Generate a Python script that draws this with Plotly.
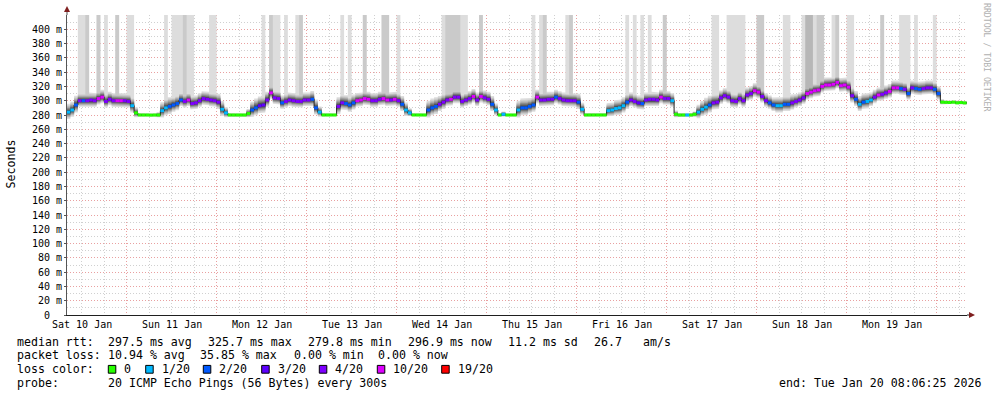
import pandas as pd
import plotly.graph_objects as go

# ---------------- data ----------------
first_bucket = pd.Timestamp("2026-01-10 08:00:00")
range_start = pd.Timestamp("2026-01-10 08:06:25")
range_end = pd.Timestamp("2026-01-20 08:06:25")

median_rtt = (
    [284, 287, 294, 300, 300, 300, 301, 300, 303, 305, 299, 302, 300, 300, 300, 300, 299, 293, 283, 280, 280, 280, 279.8, 280]
    + [280, 286, 290, 292, 294, 296, 301, 299, 301, 296, 297, 300, 303, 302, 301, 300, 298, 288, 283, 280, 280, 280, 280, 280]
    + [282, 287, 290, 293, 294, 301, 311, 304, 303, 297, 299, 301, 300, 299, 299, 301, 301, 302, 290, 284, 280, 280, 280, 280]
    + [292, 297, 296, 294, 297, 300, 301, 303, 302, 300, 300, 302, 303, 301, 301, 302, 300, 295, 287, 283, 280, 280, 280, 280]
    + [287, 290, 292, 295, 298, 301, 302, 305, 305, 299, 301, 303, 306, 301, 306, 304, 302, 295, 287, 280, 281, 280, 280, 280]
    + [287, 290, 290, 292, 294, 305, 301, 301, 302, 302, 305, 303, 301, 300, 300, 300, 298, 288, 280, 280, 280, 280, 280, 280]
    + [286, 287, 289, 290, 293, 298, 301, 299, 297, 296, 301, 302, 302, 301, 305, 303, 303, 300, 281, 280, 280, 280, 280, 281]
    + [284, 288, 291, 294, 297, 298, 304, 307, 305, 300, 299, 303, 300, 308, 310, 314, 312, 306, 300, 297, 294, 293, 293, 295]
    + [295, 297, 299, 301, 304, 310, 312, 314, 315, 320, 322, 322, 323, 325.7, 321, 322, 319, 307, 302, 295, 298, 299, 301, 305]
    + [308, 309, 311, 313, 318, 318, 317, 316, 310, 318, 317, 316, 317, 318, 318, 316, 310, 298, 297.7, 297.5, 298, 297, 297.5, 296.9]
)

loss_pings = (
    [1, 1, 2, 4, 2, 4, 4, 4, 12, 12, 4, 4, 4, 12, 12, 4, 4, 1, 0, 0, 0, 0, 0, 0]
    + [0, 1, 1, 2, 2, 2, 2, 4, 12, 4, 4, 4, 4, 4, 4, 4, 4, 1, 1, 0, 0, 0, 0, 0]
    + [0, 2, 2, 3, 3, 4, 12, 4, 4, 2, 4, 4, 4, 4, 4, 4, 4, 2, 2, 1, 0, 0, 0, 0]
    + [4, 4, 2, 2, 2, 12, 12, 12, 12, 4, 4, 4, 12, 12, 4, 12, 4, 2, 1, 1, 0, 0, 0, 0]
    + [2, 2, 2, 4, 4, 4, 12, 4, 4, 4, 4, 4, 12, 4, 12, 4, 4, 2, 1, 0, 1, 0, 0, 0]
    + [1, 2, 2, 2, 2, 12, 4, 4, 4, 4, 2, 4, 4, 4, 4, 4, 2, 1, 0, 0, 0, 0, 0, 0]
    + [1, 1, 1, 1, 1, 2, 4, 4, 3, 2, 4, 4, 4, 4, 12, 4, 4, 1, 0, 0, 0, 1, 0, 0]
    + [1, 1, 1, 2, 4, 4, 4, 4, 4, 4, 4, 4, 4, 4, 4, 12, 12, 4, 4, 2, 2, 1, 1, 2]
    + [2, 4, 4, 4, 4, 12, 12, 12, 12, 12, 12, 12, 12, 12, 12, 12, 12, 4, 2, 1, 2, 1, 1, 4]
    + [12, 4, 4, 12, 12, 12, 2, 4, 2, 4, 2, 2, 4, 4, 4, 2, 2, 0, 0, 0, 0, 0, 0, 0]
)

smoke_spread = (
    [9, 9, 10, 8, 8, 8, 8, 8, 8, 8, 8, 8, 8, 8, 8, 8, 8, 9, 6, 2, 1.5, 1.5, 1.5, 1.5]
    + [3, 9, 10, 10, 9, 9, 8, 8, 8, 8, 8, 8, 8, 8, 8, 8, 9, 9, 6, 2, 1.5, 1.5, 1.5, 1.5]
    + [5, 9, 10, 10, 10, 9, 8, 8, 8, 8, 8, 8, 8, 8, 8, 8, 8, 9, 9, 6, 2, 1.5, 1.5, 1.5]
    + [10, 9, 9, 9, 9, 8, 8, 8, 8, 8, 8, 8, 8, 8, 8, 8, 8, 9, 8, 5, 2, 1.5, 1.5, 1.5]
    + [10, 10, 10, 9, 9, 8, 8, 8, 8, 8, 8, 8, 8, 8, 8, 8, 8, 9, 7, 2, 3, 1.5, 1.5, 1.5]
    + [10, 10, 10, 9, 9, 8, 8, 8, 8, 8, 8, 8, 8, 8, 8, 8, 9, 7, 2, 1.5, 1.5, 1.5, 1.5, 2]
    + [8, 8, 9, 9, 9, 9, 8, 8, 8, 8, 8, 8, 8, 8, 8, 8, 8, 8, 4, 2, 2, 2, 2, 3]
    + [8, 9, 10, 10, 9, 9, 8, 8, 8, 8, 8, 8, 8, 8, 8, 8, 8, 8, 8, 8, 8, 9, 9, 9]
    + [9, 9, 8, 8, 8, 8, 8, 8, 8, 8, 8, 8, 8, 8, 8, 8, 8, 9, 9, 9, 9, 9, 8, 8]
    + [8, 8, 8, 8, 8, 8, 8, 8, 8, 8, 8, 8, 8, 8, 8, 8, 8, 3, 2, 2, 2, 2, 2, 2]
)

# hours (bucket index) in which 1, 2 or 3 of the pings were above the drawn range
spike_hours_1 = [3, 4, 10, 16, 17, 26, 28, 29, 30, 32, 33, 38, 39, 52, 55, 56, 58, 61, 73, 75, 88,
                 100, 105, 106, 124, 126, 133, 149, 151, 153, 155, 172, 173, 176, 177, 178, 179, 180,
                 191, 192, 196, 199, 204, 208, 209, 222, 223, 224, 226, 231]
spike_hours_2 = [5, 8, 13, 31, 54, 62, 79, 84, 85, 101, 102, 103, 104, 110, 127, 134, 159, 184, 185,
                 200, 201, 205, 217]
spike_hours_3 = [197, 198]

day_labels = ["Sat 10 Jan", "Sun 11 Jan", "Mon 12 Jan", "Tue 13 Jan", "Wed 14 Jan",
              "Thu 15 Jan", "Fri 16 Jan", "Sat 17 Jan", "Sun 18 Jan", "Mon 19 Jan"]
day_label_times = pd.date_range("2026-01-10 12:00", periods=10, freq="D")

y_tick_values = list(range(0, 401, 20))
y_tick_labels = ["0\u00a0\u00a0"] + [f"{v} m" for v in range(20, 401, 20)]

loss_thresholds = [0, 1, 2, 3, 4, 10, 19]
loss_colors = ["#26ff00", "#00b8ff", "#0059ff", "#5e00ff", "#7e00ff", "#dd00ff", "#ff0000"]
loss_names = ["0", "1/20", "2/20", "3/20", "4/20", "10/20", "19/20"]

stats_rtt = ["297.5 ms avg", "325.7 ms max", "279.8 ms min", "296.9 ms now", "11.2 ms sd", "26.7", "am/s"]
stats_loss = ["10.94 % avg", "35.85 % max", "0.00 % min", "0.00 % now"]
probe_text = "20 ICMP Echo Pings (56 Bytes) every 300s"
end_text = "end: Tue Jan 20 08:06:25 2026"

# ---------------- geometry ----------------
W, H = 997, 397
L, T, PW, PH = 67, 15, 900, 300
FONT = "DejaVu Sans Mono"


def px(x):
    return (x - L) / PW


def py(y):
    return (T + PH - y) / PH


n = len(median_rtt)
edges = [first_bucket + pd.Timedelta(hours=i) for i in range(n + 1)]

fig = go.Figure()

# smoke layers (outer -> inner), smokeping style grey levels
fracs = [1.0, 0.82, 0.70, 0.60, 0.51, 0.43, 0.35, 0.27, 0.19, 0.11]
spike_level = [0] * n
for h in spike_hours_1:
    spike_level[h] = 1
for h in spike_hours_2:
    spike_level[h] = 2
for h in spike_hours_3:
    spike_level[h] = 3

for k, f in enumerate(fracs, start=1):
    g = int(190 / 10 * (10 - k)) + 50
    col = f"rgb({g},{g},{g})"
    xs, ys = [], []
    for i in range(n):
        up = median_rtt[i] + 1.3 * smoke_spread[i] * f
        if spike_level[i] >= k:
            up = 470
        xs += [edges[i], edges[i + 1]]
        ys += [up, up]
    for i in range(n - 1, -1, -1):
        lo = median_rtt[i] - 1.05 * smoke_spread[i] * f
        xs += [edges[i + 1], edges[i]]
        ys += [lo, lo]
    fig.add_trace(go.Scatter(x=xs, y=ys, mode="lines", fill="toself", fillcolor=col,
                             line=dict(width=0), hoverinfo="skip", showlegend=False))

# median line (black steps)
fig.add_trace(go.Scatter(x=edges, y=median_rtt + [median_rtt[-1]], mode="lines",
                         line=dict(color="#202020", width=1, shape="hv"),
                         hoverinfo="skip", showlegend=False))


def color_for(loss):
    idx = 0
    for j, th in enumerate(loss_thresholds):
        if loss >= th:
            idx = j
    return idx


# coloured median segments by loss
for j, col in enumerate(loss_colors):
    xs, ys = [], []
    for i in range(n):
        if color_for(loss_pings[i]) == j:
            xs += [edges[i], edges[i + 1], None]
            ys += [median_rtt[i], median_rtt[i], None]
    if xs:
        fig.add_trace(go.Scatter(x=xs, y=ys, mode="lines", line=dict(color=col, width=3),
                                 hoverinfo="skip", showlegend=False))

minor_grid = "#d0d0d0"
major_grid = "#e9a0a0"

fig.update_layout(
    width=W, height=H,
    margin=dict(l=L, r=W - L - PW, t=T, b=H - T - PH, pad=0),
    paper_bgcolor="white", plot_bgcolor="white",
    showlegend=False,
    font=dict(family=FONT, size=10, color="black"),
    xaxis=dict(
        type="date", range=[range_start, range_end],
        showgrid=True, gridcolor=major_grid, griddash="1px,2px", gridwidth=1,
        dtick=86400000, tick0="2026-01-11 00:00:00",
        minor=dict(dtick=21600000, tick0="2026-01-11 00:00:00", showgrid=True,
                   gridcolor=minor_grid, griddash="1px,2px", gridwidth=1),
        showticklabels=False, ticks="", zeroline=False,
        showline=True, linecolor="#1f1f1f", linewidth=1,
    ),
    yaxis=dict(
        range=[0, 420], tickmode="array", tickvals=y_tick_values, ticktext=y_tick_labels,
        showgrid=True, gridcolor=major_grid, griddash="1px,2px", gridwidth=1,
        minor=dict(dtick=10, tick0=0, showgrid=True, gridcolor=minor_grid,
                   griddash="1px,2px", gridwidth=1),
        ticks="outside", ticklen=2, tickcolor="#555555",
        tickfont=dict(family=FONT, size=10, color="black"),
        zeroline=False, showline=True, linecolor="#555555", linewidth=1,
    ),
)

shapes = []
# axis extensions and arrows
shapes.append(dict(type="line", xref="paper", yref="paper", x0=0, x1=0, y0=1, y1=py(10),
                   line=dict(color="#555555", width=1)))
shapes.append(dict(type="path", xref="paper", yref="paper",
                   path=f"M {px(67)} {py(6)} L {px(64)} {py(12)} L {px(70)} {py(12)} Z",
                   fillcolor="#7f1f1f", line=dict(width=0)))
shapes.append(dict(type="line", xref="paper", yref="paper", x0=1, x1=px(970), y0=0, y1=0,
                   line=dict(color="#1f1f1f", width=1)))
shapes.append(dict(type="path", xref="paper", yref="paper",
                   path=f"M {px(975)} {py(315)} L {px(969)} {py(312)} L {px(969)} {py(318)} Z",
                   fillcolor="#7f1f1f", line=dict(width=0)))

annotations = []
for lab, t in zip(day_labels, day_label_times):
    annotations.append(dict(x=t, xref="x", y=py(324.5), yref="paper", text=lab, showarrow=False,
                            xanchor="center", yanchor="middle",
                            font=dict(family=FONT, size=10, color="black")))

annotations.append(dict(x=px(10.5), xref="paper", y=py(164), yref="paper", text="Seconds",
                        textangle=-90, showarrow=False, xanchor="center", yanchor="middle",
                        font=dict(family=FONT, size=11.6, color="black")))
annotations.append(dict(x=px(987), xref="paper", y=py(58), yref="paper",
                        text="RRDTOOL / TOBI OETIKER", textangle=90, showarrow=False,
                        xanchor="center", yanchor="middle",
                        font=dict(family=FONT, size=8.2, color="#b0b0b0")))


def legend_text(x, y, text):
    annotations.append(dict(x=px(x - 1), xref="paper", y=py(y), yref="paper", text=text,
                            showarrow=False, xanchor="left", yanchor="middle",
                            font=dict(family=FONT, size=11.6, color="black")))


row_y = [341.7, 355.2, 369.3, 382.7]
legend_text(16, row_y[0], "median rtt:")
for x, s in zip([107.3, 207.3, 307.3, 407.3, 507.3, 593.3, 642.3], stats_rtt):
    legend_text(x, row_y[0], s)
legend_text(16, row_y[1], "packet loss:")
for x, s in zip([107.3, 199.3, 292.7, 376.7], stats_loss):
    legend_text(x, row_y[1], s)
legend_text(16, row_y[2], "loss color:")
box_x = [108.3, 145.7, 203.3, 261.7, 319.3, 377.3, 441.7]
for bx, col, name in zip(box_x, loss_colors, loss_names):
    shapes.append(dict(type="rect", xref="paper", yref="paper", x0=px(bx), x1=px(bx + 7.5),
                       y0=py(373.2), y1=py(365.4), fillcolor=col,
                       line=dict(color="black", width=1)))
    legend_text(bx + 15, row_y[2], name)
legend_text(16, row_y[3], "probe:")
legend_text(107.3, row_y[3], probe_text)
legend_text(778.3, row_y[3], end_text)

fig.update_layout(shapes=shapes, annotations=annotations)

fig.write_html("out.html", include_plotlyjs=True, config={"displayModeBar": False},
               post_script="document.body.style.margin='0px';document.body.style.overflow='hidden';")
